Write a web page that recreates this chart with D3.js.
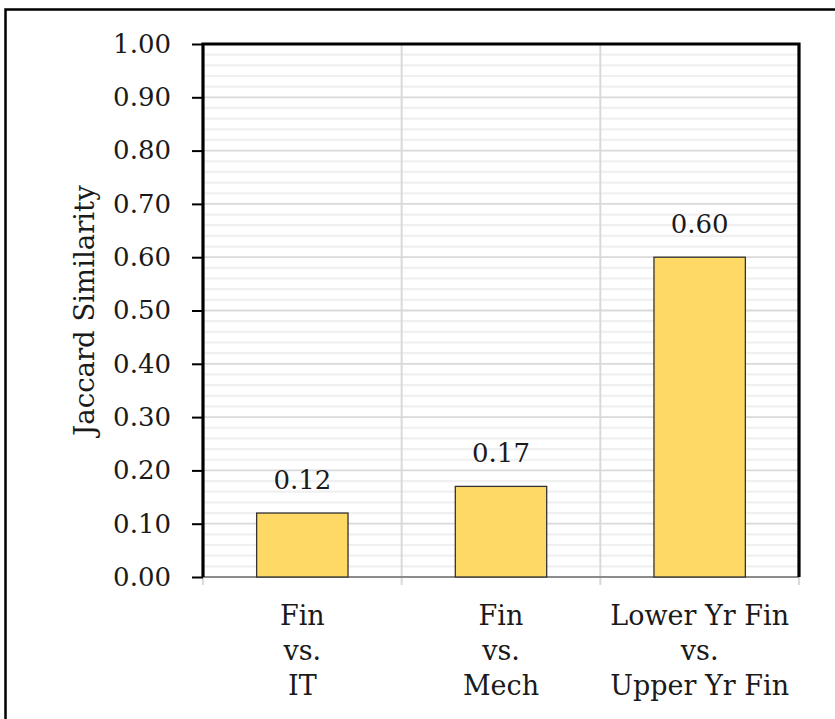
<!DOCTYPE html>
<html>
<head>
<meta charset="utf-8">
<script src="https://cdn.jsdelivr.net/npm/d3@7"></script>
<style>
  html, body { margin: 0; padding: 0; background: #fff; }
  svg text { font-family: "DejaVu Serif", "Liberation Serif", serif; fill: #1a1a1a; }
</style>
</head>
<body>
<svg id="chart" width="835" height="719"></svg>
<script>
// Jaccard similarity between skill sets of student groups
const categories = [
  ["Fin", "vs.", "IT"],
  ["Fin", "vs.", "Mech"],
  ["Lower Yr Fin", "vs.", "Upper Yr Fin"]
];
const values = [0.12, 0.17, 0.60];
const valueLabels = ["0.12", "0.17", "0.60"];
const yTicks = [0, 0.1, 0.2, 0.3, 0.4, 0.5, 0.6, 0.7, 0.8, 0.9, 1.0];
const yTitle = "Jaccard Similarity";

const svg = d3.select("#chart");
const plot = { left: 203, right: 799, top: 44, bottom: 577 };

// outer frame around the figure
svg.append("rect")
  .attr("x", 5.5).attr("y", 9.5)
  .attr("width", 900).attr("height", 800)
  .attr("fill", "none").attr("stroke", "#000").attr("stroke-width", 2.5);

const x = d3.scaleBand()
  .domain(d3.range(categories.length))
  .range([plot.left, plot.right])
  .paddingInner(0).paddingOuter(0);

const y = d3.scaleLinear().domain([0, 1]).range([plot.bottom, plot.top]);

// minor gridlines every 0.02
const minor = d3.range(0, 1.0001, 0.02).filter(v => Math.abs(v * 10 - Math.round(v * 10)) > 1e-6);
svg.append("g").selectAll("line").data(minor).join("line")
  .attr("x1", plot.left).attr("x2", plot.right)
  .attr("y1", d => y(d)).attr("y2", d => y(d))
  .attr("stroke", "#f0f0f0").attr("stroke-width", 2.2);

// major gridlines
svg.append("g").selectAll("line").data(yTicks.slice(1)).join("line")
  .attr("x1", plot.left).attr("x2", plot.right)
  .attr("y1", d => y(d)).attr("y2", d => y(d))
  .attr("stroke", "#d9d9d9").attr("stroke-width", 1.8);

// vertical gridlines at category boundaries, extending below the axis as ticks
const bounds = d3.range(categories.length + 1).map(i => i < categories.length ? x(i) : plot.right);
svg.append("g").selectAll("line").data(bounds).join("line")
  .attr("x1", d => d).attr("x2", d => d)
  .attr("y1", plot.top).attr("y2", plot.bottom + 8)
  .attr("stroke", "#d9d9d9").attr("stroke-width", 2);

// bottom axis line
svg.append("line")
  .attr("x1", plot.left).attr("x2", plot.right)
  .attr("y1", plot.bottom).attr("y2", plot.bottom)
  .attr("stroke", "#8c8c8c").attr("stroke-width", 2);

// bars
const barW = x.bandwidth() * 0.46;
svg.append("g").selectAll("rect").data(values).join("rect")
  .attr("x", (d, i) => x(i) + (x.bandwidth() - barW) / 2)
  .attr("y", d => y(d))
  .attr("width", barW)
  .attr("height", d => y(0) - y(d))
  .attr("fill", "#ffd966")
  .attr("stroke", "#333").attr("stroke-width", 1.3);

// value labels
svg.append("g").selectAll("text").data(values).join("text")
  .attr("x", (d, i) => x(i) + x.bandwidth() / 2)
  .attr("y", d => y(d) - 24)
  .attr("text-anchor", "middle")
  .attr("font-size", 26)
  .text((d, i) => valueLabels[i]);

// left axis with outward ticks
const yAxis = d3.axisLeft(y).tickValues(yTicks).tickFormat(d3.format(".2f"))
  .tickSize(11).tickPadding(21);
const ga = svg.append("g").attr("transform", `translate(${plot.left},0)`).call(yAxis);
ga.select(".domain").remove();
ga.selectAll(".tick line").attr("stroke", "#000").attr("stroke-width", 2);
ga.selectAll(".tick text").attr("font-size", 26).attr("fill", "#1a1a1a")
  .attr("font-family", "DejaVu Serif, Liberation Serif, serif");

// plot area border (top, left, right)
svg.append("path")
  .attr("d", `M${plot.left},${plot.bottom}V${plot.top}H${plot.right}V${plot.bottom}`)
  .attr("fill", "none").attr("stroke", "#000").attr("stroke-width", 3.2);

// category labels
const cat = svg.append("g").selectAll("text").data(categories).join("text")
  .attr("text-anchor", "middle")
  .attr("font-size", 27);
cat.selectAll("tspan").data(d => d).join("tspan")
  .attr("x", function () { const i = categories.indexOf(d3.select(this.parentNode).datum()); return x(i) + x.bandwidth() / 2; })
  .attr("y", (d, j) => 625 + j * 35)
  .text(d => d);

// axis title
svg.append("text")
  .attr("transform", `translate(94,${(plot.top + plot.bottom) / 2}) rotate(-90)`)
  .attr("text-anchor", "middle")
  .attr("font-size", 27.5)
  .text(yTitle);
</script>
</body>
</html>
